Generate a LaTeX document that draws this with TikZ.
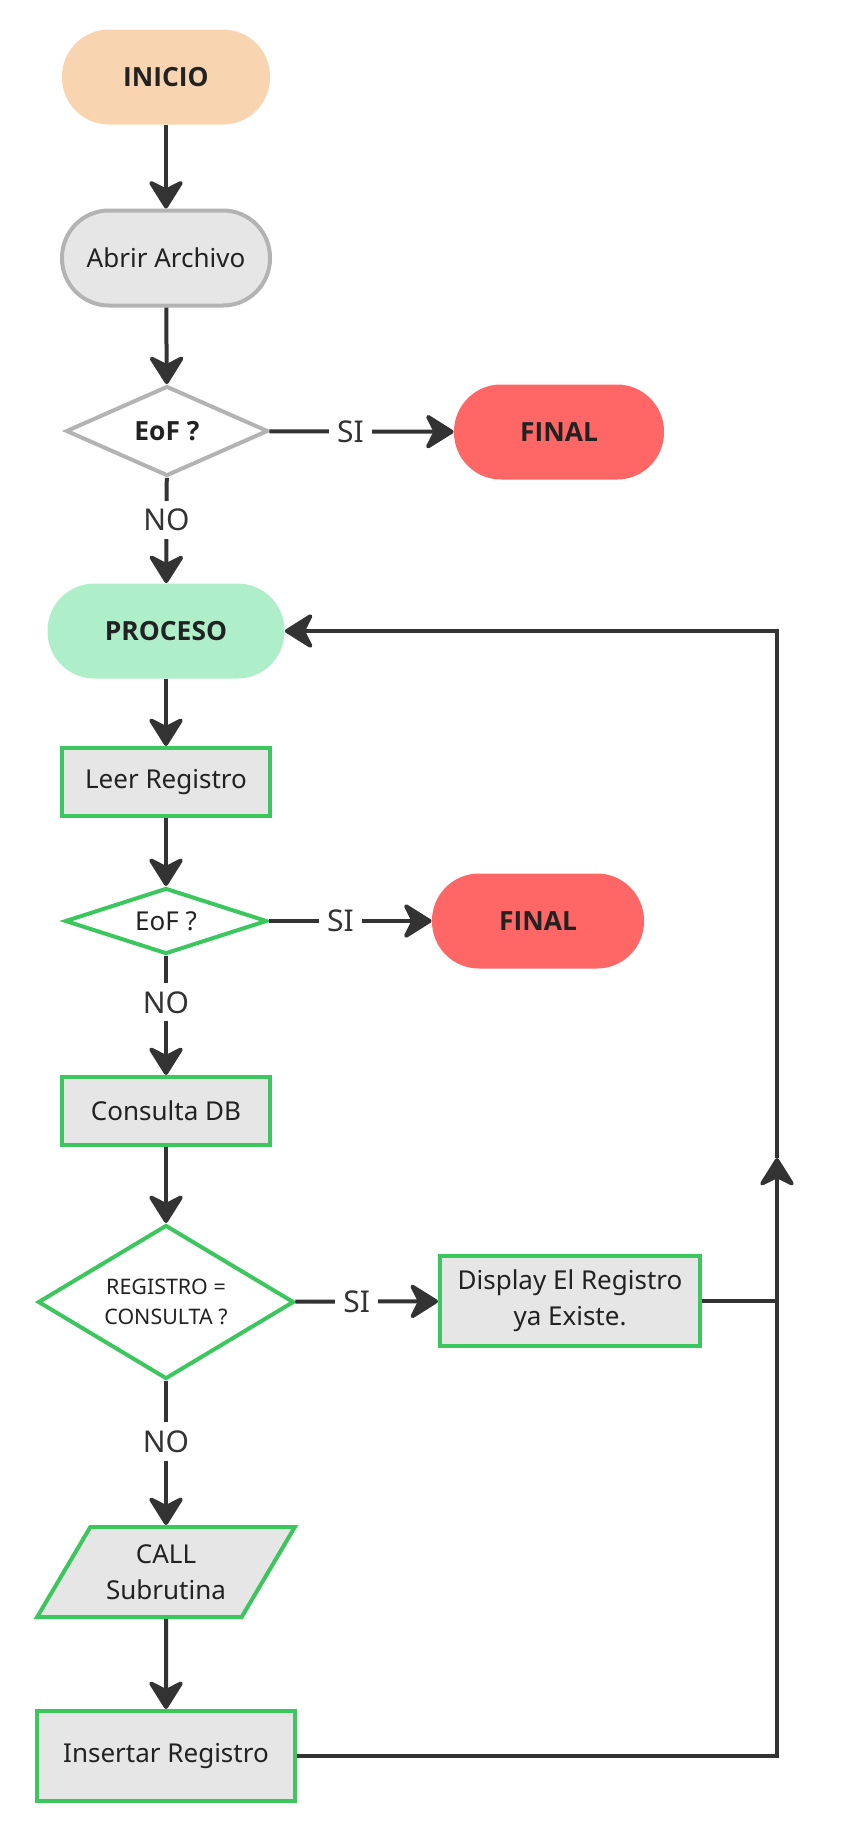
\documentclass[tikz,border=0pt]{standalone}
\usepackage{fontspec}
\setmainfont{Noto Sans}
\newfontfamily\gruesa{Open Sans}
\usetikzlibrary{shapes.geometric,arrows.meta}
\definecolor{linea}{HTML}{333333}
\definecolor{verde}{HTML}{3CC65E}
\definecolor{gris}{HTML}{B3B3B3}
\definecolor{relleno}{HTML}{E6E6E6}
\definecolor{durazno}{HTML}{F8D5B0}
\definecolor{rojo}{HTML}{FF6666}
\definecolor{menta}{HTML}{AEEFC9}
\definecolor{texto}{HTML}{222222}

\begin{document}
\begin{tikzpicture}[x=0.5pt,y=-0.5pt,
  every node/.style={text=texto, font=\fontsize{13}{18}\selectfont},
  negrita/.style={font=\gruesa\bfseries\fontsize{13.2}{15}\selectfont},
  term/.style={rectangle, rounded corners=23.5pt, minimum width=104pt, minimum height=47.5pt, negrita},
  caja/.style={rectangle, draw=verde, line width=2pt, fill=relleno, minimum width=104pt, minimum height=34pt},
  decision/.style={diamond, aspect=2, inner sep=0pt, line width=2pt, fill=white, minimum width=101pt, minimum height=45pt},
  entrada/.style={trapezium, trapezium left angle=55.6, trapezium right angle=124.4, trapezium stretches=true,
    draw=verde, line width=2pt, fill=relleno, minimum width=129pt, minimum height=45pt, align=center},
  flecha/.style={draw=linea, line width=2pt, -{Stealth[length=16pt, width=20pt, inset=5pt, round]}},
  linea/.style={draw=linea, line width=2pt},
  etiq/.style={fill=white, inner sep=4pt, text=linea, font=\fontsize{15}{18}\selectfont}]
\fill[white] (0,0) rectangle (847,1843);
\node[term, fill=durazno] (inicio) at (166,77) {INICIO};
\node[term, fill=relleno, draw=gris, line width=2pt, font=\fontsize{13}{18}\selectfont] (abrir) at (166,258) {Abrir Archivo};
\node[decision, draw=gris, negrita] (eof1) at (167,431) {EoF ?};
\node[term, fill=rojo, minimum width=105pt] (final1) at (559,432) {FINAL};
\node[term, fill=menta, minimum width=118.5pt] (proceso) at (166,631) {PROCESO};
\node[caja] (leer) at (166,782) {Leer Registro};
\node[decision, draw=verde, minimum height=33pt] (eof2) at (166,921) {EoF ?};
\node[term, fill=rojo, minimum width=106pt] (final2) at (538,921) {FINAL};
\node[caja] (consulta) at (166,1111) {Consulta DB};
\node[decision, draw=verde, minimum width=128pt, minimum height=77pt, align=center, font=\fontsize{10.7}{15}\selectfont] (regcons) at (166,1302) {REGISTRO =\\CONSULTA ?};
\node[caja, minimum width=130pt, minimum height=45pt, align=center] (display) at (570,1301) {Display El Registro\\ya Existe.};
\node[entrada] (call) at (166,1572) {CALL\\Subrutina};
\node[caja, minimum width=129pt, minimum height=45pt] (insertar) at (166,1756) {Insertar Registro};
\coordinate (vuelta) at (777,629);
\coordinate (subida) at (777,1158);
\draw[flecha] (inicio) -- (abrir);
\draw[flecha] (abrir) -- (eof1);
\draw[flecha] (eof1) -- node[etiq, pos=0.44] {SI} (final1);
\draw[flecha] (eof1) -- node[etiq, pos=0.4] {NO} (proceso);
\draw[flecha] (proceso) -- (leer);
\draw[flecha] (leer) -- (eof2);
\draw[flecha] (eof2) -- node[etiq, pos=0.44] {SI} (final2);
\draw[flecha] (eof2) -- node[etiq, pos=0.39] {NO} (consulta);
\draw[flecha] (consulta) -- (regcons);
\draw[flecha] (regcons) -- node[etiq, pos=0.43] {SI} (display);
\draw[flecha] (regcons) -- node[etiq, pos=0.42] {NO} (call);
\draw[flecha] (call) -- (insertar);
\draw[flecha] (insertar.east) -| (subida);
\draw[flecha] (subida) |- (proceso.east);
\draw[linea] (display.east) -- (display.east -| subida);
\end{tikzpicture}
\end{document}
